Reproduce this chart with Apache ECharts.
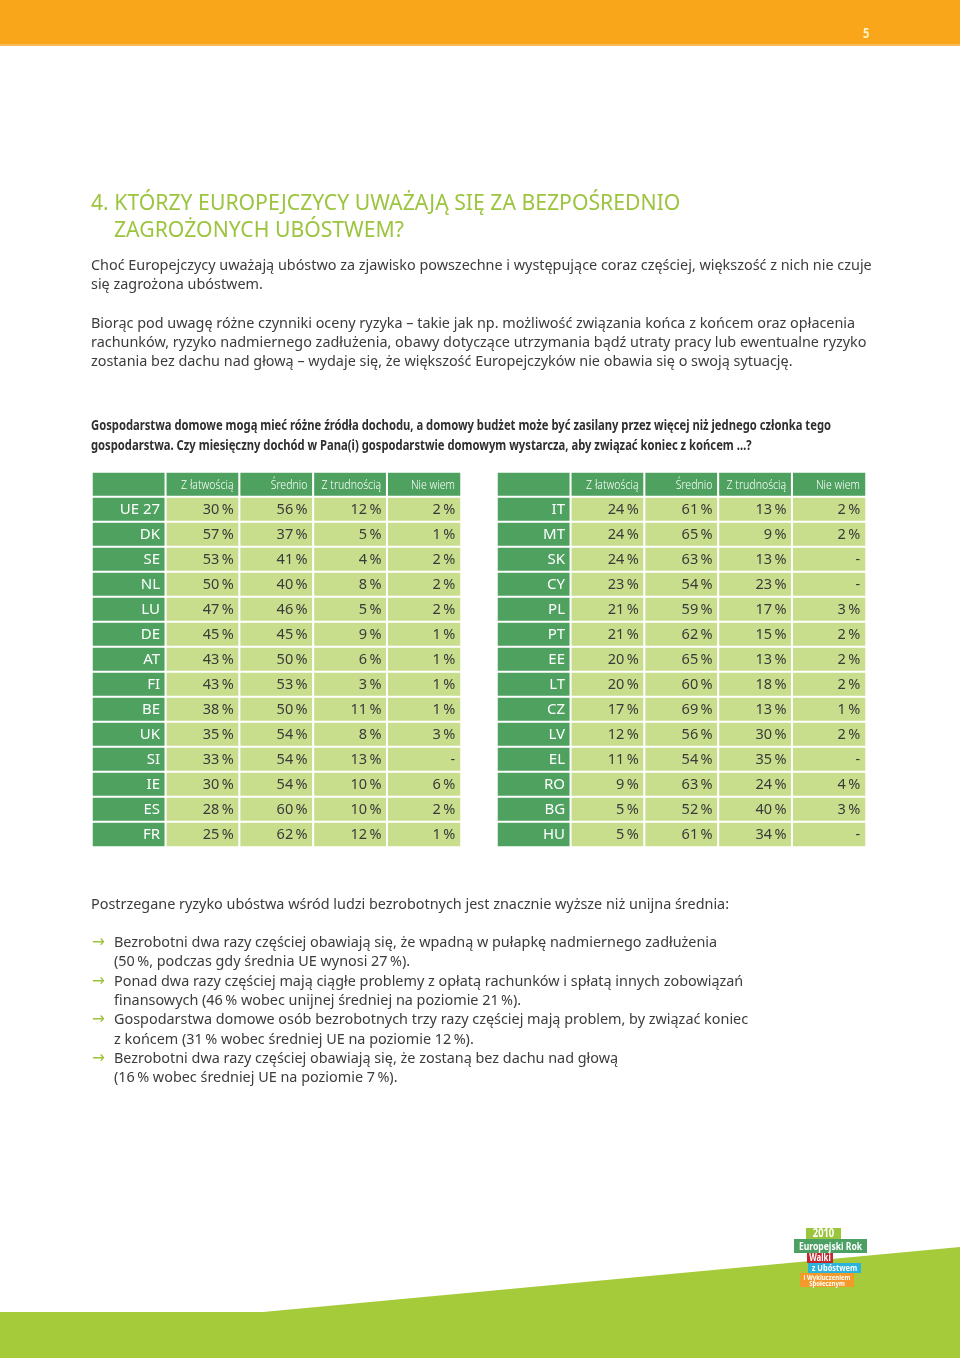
<!DOCTYPE html>
<html><head><meta charset="utf-8">
<script src="https://cdn.jsdelivr.net/npm/echarts@6/dist/echarts.min.js"></script>
<style>html,body{margin:0;padding:0;background:#fff}#c{width:960px;height:1358px}</style>
</head><body><div id="c"></div>
<script>
const columns = ['', 'Z łatwością', 'Średnio', 'Z trudnością', 'Nie wiem'];
const countriesA = ['UE 27','DK','SE','NL','LU','DE','AT','FI','BE','UK','SI','IE','ES','FR'];
const easyA   = [30,57,53,50,47,45,43,43,38,35,33,30,28,25];
const mediumA = [56,37,41,40,46,45,50,53,50,54,54,54,60,62];
const hardA   = [12,5,4,8,5,9,6,3,11,8,13,10,10,12];
const dkA     = [2,1,2,2,2,1,1,1,1,3,null,6,2,1];
const countriesB = ['IT','MT','SK','CY','PL','PT','EE','LT','CZ','LV','EL','RO','BG','HU'];
const easyB   = [24,24,24,23,21,21,20,20,17,12,11,9,5,5];
const mediumB = [61,65,63,54,59,62,65,60,69,56,54,63,52,61];
const hardB   = [13,9,13,23,17,15,13,18,13,30,35,24,40,34];
const dkB     = [2,2,null,null,3,2,2,2,1,2,null,4,3,null];

const DARK = '#4FA160', LIGHT = '#C9DE8D', TXT = '#3a3a3a', GREEN_T = '#9CC43E';

function pct(v){ return v == null ? '-' : v + '\u2009%'; }

function tableData(countries, cols){
  const d = [];
  columns.forEach((c, i) => {
    d.push({value:[i, 0, 0], txt: '', itemStyle:{color: DARK}, label:{show:false}});
  });
  countries.forEach((name, r) => {
    d.push({value:[0, r+1, 0], txt: name, itemStyle:{color: DARK},
      label:{color:'#fff', fontSize: 15, distance: 7}});
    cols.forEach((arr, ci) => {
      d.push({value:[ci+1, r+1, arr[r] == null ? 0 : arr[r]], txt: pct(arr[r]), itemStyle:{color: LIGHT}});
    });
  });
  return d;
}

const rowsA = ['h'].concat(countriesA), rowsB = ['h'].concat(countriesB);

function txt(x, y, text, font, fill, extra){
  return Object.assign({type:'text', x:x, y:y, silent:true,
    style:{text:text, font:font, fill:fill||'#3C3C3B', verticalAlign:'middle', textVerticalAlign:'middle', align:'left', textAlign:'left'}}, extra||{});
}
const PF = '14.4px "Noto Sans"';
const paras = [
  [266,'Choć Europejczycy uważają ubóstwo za zjawisko powszechne i występujące coraz częściej, większość z nich nie czuje'],
  [285,'się zagrożona ubóstwem.'],
  [324,'Biorąc pod uwagę różne czynniki oceny ryzyka – takie jak np. możliwość związania końca z końcem oraz opłacenia'],
  [343,'rachunków, ryzyko nadmiernego zadłużenia, obawy dotyczące utrzymania bądź utraty pracy lub ewentualne ryzyko'],
  [362,'zostania bez dachu nad głową – wydaje się, że większość Europejczyków nie obawia się o swoją sytuację.']
];
const question = [
  [425,'Gospodarstwa domowe mogą mieć różne źródła dochodu, a domowy budżet może być zasilany przez więcej niż jednego członka tego'],
  [445,'gospodarstwa. Czy miesięczny dochód w Pana(i) gospodarstwie domowym wystarcza, aby związać koniec z końcem …?']
];
const bullets = [
  [943,'Bezrobotni dwa razy częściej obawiają się, że wpadną w pułapkę nadmiernego zadłużenia', true],
  [962,'(50\u2009%, podczas gdy średnia UE wynosi 27\u2009%).', false],
  [982,'Ponad dwa razy częściej mają ciągłe problemy z opłatą rachunków i spłatą innych zobowiązań', true],
  [1001,'finansowych (46\u2009% wobec unijnej średniej na poziomie 21\u2009%).', false],
  [1020,'Gospodarstwa domowe osób bezrobotnych trzy razy częściej mają problem, by związać koniec', true],
  [1040,'z końcem (31\u2009% wobec średniej UE na poziomie 12\u2009%).', false],
  [1059,'Bezrobotni dwa razy częściej obawiają się, że zostaną bez dachu nad głową', true],
  [1078,'(16\u2009% wobec średniej UE na poziomie 7\u2009%).', false]
];

const graphics = [
  {type:'rect', shape:{x:0,y:0,width:960,height:44}, style:{fill:'#F9A61B'}, silent:true},
  {type:'rect', shape:{x:0,y:44,width:960,height:2}, style:{fill:'#F8BC5A'}, silent:true},
  txt(863, 34, '5', 'bold 14px "Noto Sans"', '#FFF3C4', {scaleX:0.8}),
  txt(91, 204, '4. KTÓRZY EUROPEJCZYCY UWAŻAJĄ SIĘ ZA BEZPOŚREDNIO', '21.2px "Noto Sans"', GREEN_T),
  txt(114, 231, 'ZAGROŻONYCH UBÓSTWEM?', '21.2px "Noto Sans"', GREEN_T),
  {type:'polygon', shape:{points:[[0,1312],[263,1312],[960,1247],[960,1358],[0,1358]]}, style:{fill:'#A6CB3A'}, silent:true},
  txt(91, 905, 'Postrzegane ryzyko ubóstwa wśród ludzi bezrobotnych jest znacznie wyższe niż unijna średnia:', PF)
];
paras.forEach(p => graphics.push(txt(91, p[0], p[1], PF)));
question.forEach(p => graphics.push(txt(91, p[0]+1, p[1], 'bold 14px "Noto Sans"', '#2f2f2f', {scaleX:0.802})));
bullets.forEach(b => {
  if (b[2]) graphics.push(txt(92, b[0], '→', '17px "DejaVu Sans"', '#9CC43E', {scaleX:0.9}));
  graphics.push(txt(114, b[0], b[1], PF));
});
// logo
const logo = [
  [806,1228,35,11,'#9BC53D','2010','bold 12px "Noto Sans"'],
  [794,1239,73,14,'#4DA064','Europejski Rok','bold 11px "Noto Sans"'],
  [807,1253,26,10,'#C1272D','Walki','bold 10px "Noto Sans"'],
  [808,1263,53,10,'#2BB3DF','z Ubóstwem','bold 9.5px "Noto Sans"'],
  [800,1273,54,14,'#F39A2B','','']
];
logo.forEach(l => {
  graphics.push({type:'rect', shape:{x:l[0],y:l[1],width:l[2],height:l[3]}, style:{fill:l[4]}, silent:true});
  if (l[5]) graphics.push({type:'text', x:l[0]+l[2]/2, y:l[1]+l[3]/2+0.5, scaleX:0.78, silent:true,
    style:{text:l[5], font:l[6], fill:'#fff', align:'center', textAlign:'center', verticalAlign:'middle', textVerticalAlign:'middle'}});
});
graphics.push({type:'text', x:827, y:1277.5, scaleX:0.8, silent:true, style:{text:'i Wykluczeniem', font:'bold 7.5px "Noto Sans"', fill:'#fff', align:'center', textAlign:'center', verticalAlign:'middle', textVerticalAlign:'middle'}});
graphics.push({type:'text', x:827, y:1284, scaleX:0.8, silent:true, style:{text:'Społecznym', font:'bold 7.5px "Noto Sans"', fill:'#fff', align:'center', textAlign:'center', verticalAlign:'middle', textVerticalAlign:'middle'}});

function heat(idx, data){
  return {type:'heatmap', xAxisIndex:idx, yAxisIndex:idx, data:data, animation:false,
    itemStyle:{borderColor:'#fff', borderWidth:2},
    label:{show:true, position:'insideRight', distance:7, formatter:p=>p.data.txt,
      fontFamily:'"Noto Sans"', fontSize:14.5, color:TXT, padding:[2,0,0,0]},
    emphasis:{disabled:true}};
}
function headerSeries(idx){
  return {type:'custom', xAxisIndex:idx, yAxisIndex:idx, silent:true, animation:false, z:5,
    data: columns.map((c, i) => ({value:[i, 0], name:c})).filter(d => d.name),
    renderItem: function(params, api){
      const p = api.coord([api.value(0), api.value(1)]);
      const s = api.size([1, 1]);
      return {type:'text', x: p[0] + s[0]/2 - 6, y: p[1] + 1, scaleX: 0.78,
        style:{text: columns[api.value(0)], font:'300 13.5px "Noto Sans"', fill:'#fff',
          align:'right', verticalAlign:'middle'}};
    }};
}

const chart = echarts.init(document.getElementById('c'), null, {renderer:'canvas'});
chart.setOption({
  animation:false,
  backgroundColor:'#fff',
  grid:[
    {left:92, top:472, width:369, height:375},
    {left:497, top:472, width:369, height:375}
  ],
  xAxis:[
    {type:'category', gridIndex:0, data:columns, show:false},
    {type:'category', gridIndex:1, data:columns, show:false}
  ],
  yAxis:[
    {type:'category', gridIndex:0, data:rowsA, inverse:true, show:false},
    {type:'category', gridIndex:1, data:rowsB, inverse:true, show:false}
  ],
  series:[
    heat(0, tableData(countriesA, [easyA, mediumA, hardA, dkA])),
    heat(1, tableData(countriesB, [easyB, mediumB, hardB, dkB])),
    headerSeries(0), headerSeries(1)
  ],
  graphic:graphics
});
</script></body></html>
